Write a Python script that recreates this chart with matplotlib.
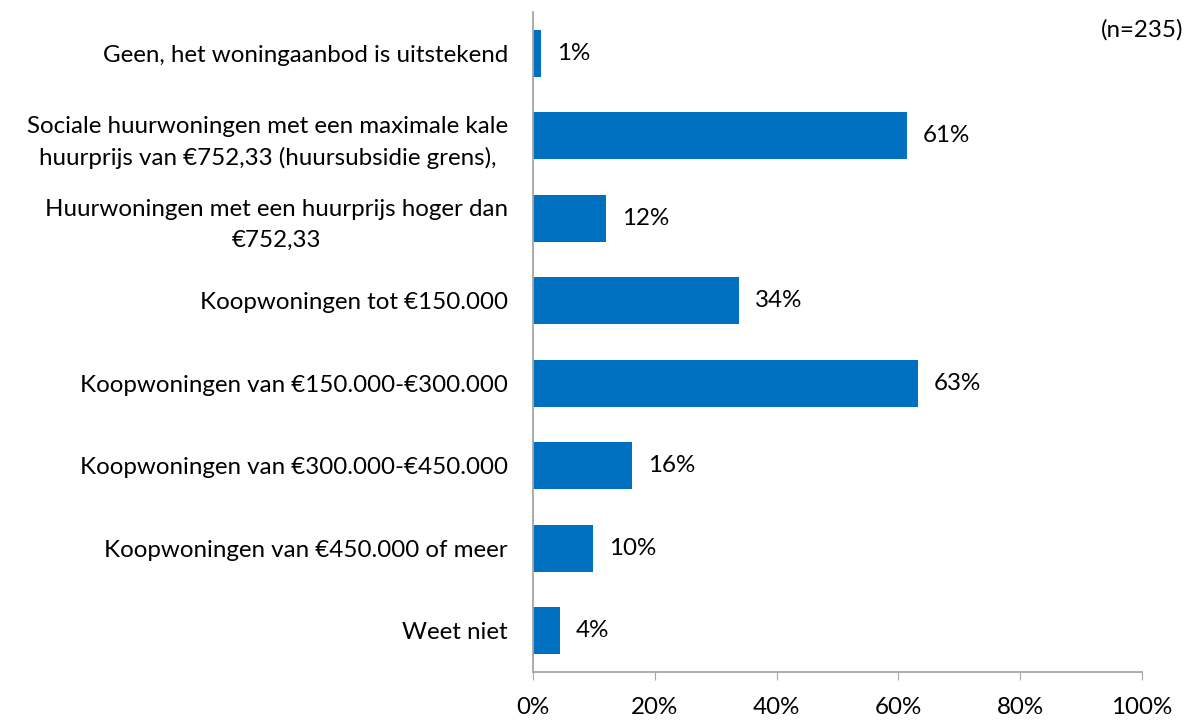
import matplotlib
matplotlib.use("Agg")
import matplotlib.pyplot as plt
from matplotlib.ticker import FuncFormatter

categories = [
    "Geen, het woningaanbod is uitstekend",
    "Sociale huurwoningen met een maximale kale\nhuurprijs van €752,33 (huursubsidie grens),",
    "Huurwoningen met een huurprijs hoger dan\n€752,33",
    "Koopwoningen tot €150.000",
    "Koopwoningen van €150.000-€300.000",
    "Koopwoningen van €300.000-€450.000",
    "Koopwoningen van €450.000 of meer",
    "Weet niet",
]
values = [1.3, 61.4, 12.0, 33.8, 63.2, 16.3, 9.9, 4.4]
value_labels = ["1%", "61%", "12%", "34%", "63%", "16%", "10%", "4%"]
xticks = [0, 20, 40, 60, 80, 100]
note = "(n=235)"

plt.rcParams['font.family'] = ['Lato', 'DejaVu Sans']
FS = 17.4

fig = plt.figure(figsize=(11.91, 7.2), dpi=100)
ax = fig.add_axes([533/1191, 1-672/720, (1142-533)/1191, (672-12)/720])

ypos = list(range(len(categories)))
ax.barh(ypos, values, height=0.57, color="#0070C0")
ax.set_ylim(len(categories)-0.5, -0.5)
ax.set_xlim(0, 100)

for y, v, lab in zip(ypos, values, value_labels):
    ax.annotate(lab, (v, y), xytext=(11.5, 0), textcoords="offset points",
                va="center", ha="left", fontsize=FS, color="black")

ax.set_yticks(ypos)
ax.set_yticklabels(categories, fontsize=FS, multialignment="center", linespacing=1.55)
ax.tick_params(axis="y", length=0, pad=18)
ax.set_xticks(xticks)
ax.xaxis.set_major_formatter(FuncFormatter(lambda x, p: f"{int(x)}%"))
ax.tick_params(axis="x", length=6, color="#A6A6A6", labelsize=FS, pad=12)

for s in ["top", "right"]:
    ax.spines[s].set_visible(False)
for s in ["left", "bottom"]:
    ax.spines[s].set_color("#A6A6A6")
    ax.spines[s].set_linewidth(1.3)

fig.text(1183/1191, 1-30/720, note, ha="right", va="center", fontsize=FS)

fig.savefig("out.png", dpi=100)
